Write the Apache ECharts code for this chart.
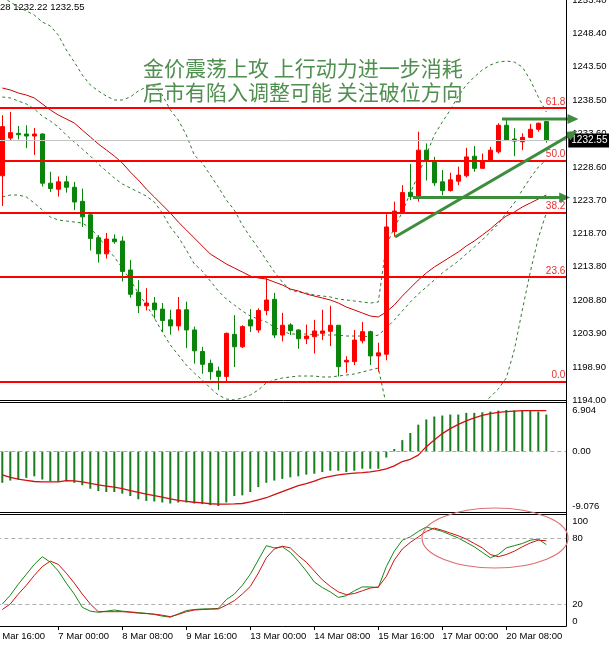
<!DOCTYPE html>
<html>
<head>
<meta charset="utf-8">
<script src="https://cdn.jsdelivr.net/npm/echarts@6/dist/echarts.min.js"></script>
<style>
html,body{margin:0;padding:0;background:#fff;}
#chart{width:609px;height:645px;}
</style>
</head>
<body>
<div id="chart"></div>
<script>
// ---------- categories (H4 bars, gold, March) ----------
const tradingDays = ['3 Mar','6 Mar','7 Mar','8 Mar','9 Mar','10 Mar','13 Mar','14 Mar','15 Mar','16 Mar','17 Mar','20 Mar','21 Mar'];
const barHours = ['00:00','04:00','08:00','12:00','16:00','20:00'];
const allBars = [];
tradingDays.forEach(d => barHours.forEach(h => allBars.push(d + ' ' + h)));
const categories = allBars.slice(4, 4 + 72); // first slot '3 Mar 16:00' (off-screen), 69 candles, 2 empty slots

// ---------- candles [open, close, low, high] ----------
const ohlc = [
[1227.3,1234.6,1222.8,1236.3],[1232.9,1233.7,1232.5,1236.8],[1233.6,1233.4,1232.7,1234.7],[1233.5,1233.2,1231.4,1234.8],
[1233.2,1233.5,1230.4,1234.4],[1233.5,1226.2,1225.7,1233.6],[1226.2,1225.4,1224.9,1227.9],[1225.3,1226.4,1224.2,1227.2],
[1226.4,1225.6,1224.8,1227.3],[1225.6,1223.4,1222.2,1226.4],[1223.5,1221.2,1219.7,1225.4],[1221.5,1218.0,1216.2,1221.7],
[1218.1,1215.7,1214.4,1218.5],[1215.7,1217.9,1215.0,1218.8],[1217.9,1217.5,1217.2,1218.6],[1217.6,1213.1,1211.6,1218.3],
[1213.3,1209.7,1209.2,1214.8],[1210.0,1208.0,1206.9,1211.8],[1208.0,1208.4,1207.3,1210.6],[1208.4,1207.4,1206.1,1209.3],
[1207.5,1205.8,1204.1,1208.4],[1205.9,1205.0,1203.7,1207.4],[1205.0,1207.4,1204.3,1209.3],[1207.4,1204.4,1201.7,1208.6],
[1204.4,1201.3,1199.4,1204.9],[1201.2,1199.3,1197.9,1201.9],[1199.45,1198.2,1197.0,1200.0],[1198.3,1197.5,1195.5,1198.95],
[1197.5,1203.9,1196.7,1204.0],[1203.75,1201.9,1198.9,1206.6],[1201.9,1204.9,1201.7,1205.1],[1205.9,1205.0,1204.1,1207.5],
[1204.4,1207.3,1204.0,1207.6],[1207.3,1208.85,1206.6,1212.3],[1208.95,1203.65,1203.2,1209.9],[1203.65,1205.1,1202.7,1206.95],
[1205.15,1204.3,1203.65,1205.4],[1204.4,1203.1,1201.6,1204.5],[1203.1,1203.5,1202.3,1205.2],[1203.4,1204.25,1200.9,1205.9],
[1203.9,1204.25,1202.9,1207.4],[1204.2,1205.1,1202.0,1208.0],[1205.1,1198.95,1197.5,1205.1],[1199.65,1199.9,1198.05,1200.5],
[1199.7,1202.9,1199.2,1204.4],[1202.8,1204.15,1202.4,1205.6],[1204.15,1200.55,1199.2,1204.3],[1200.55,1201.0,1198.2,1202.5],
[1200.8,1219.7,1199.9,1221.6],[1219.0,1222.05,1218.25,1223.45],[1221.8,1224.8,1221.7,1225.9],[1224.85,1224.2,1223.7,1229.05],
[1224.2,1231.1,1223.45,1233.85],[1231.1,1229.4,1226.6,1232.1],[1229.5,1226.25,1225.8,1230.1],[1226.4,1225.1,1224.4,1228.15],
[1225.1,1226.7,1224.95,1227.75],[1226.5,1227.4,1225.9,1228.65],[1227.3,1230.1,1227.05,1231.45],[1230.2,1228.4,1227.9,1231.7],
[1228.4,1229.4,1228.4,1230.6],[1229.5,1231.1,1229.4,1231.6],[1230.85,1234.8,1230.6,1235.1],[1234.8,1232.6,1232.5,1235.6],
[1232.75,1232.45,1230.2,1234.35],[1232.35,1233.0,1231.1,1233.6],[1233.0,1234.2,1232.9,1235.0],[1234.2,1235.1,1233.85,1235.2],
[1235.35,1232.55,1232.22,1235.4]
];

// ---------- Bollinger bands & moving average ----------
const bbUpper = [1253.85,1253.10,1252.36,1251.77,1251.17,1250.13,1249.54,1248.20,1245.98,1244.19,1242.26,1240.78,1239.89,1239.14,1238.55,1238.55,1239.00,1239.89,1240.48,1240.63,1239.29,1237.07,1235.58,1233.35,1230.38,1229.19,1227.41,1225.63,1223.70,1222.22,1219.99,1218.21,1216.57,1214.79,1213.01,1211.52,1210.33,1210.04,1209.89,1209.59,1209.44,1209.30,1209.00,1208.85,1208.70,1208.55,1208.40,1208.55,1217.02,1219.54,1221.92,1224.74,1227.41,1230.38,1233.35,1235.28,1237.07,1239.14,1240.78,1241.97,1243.01,1243.75,1244.19,1244.34,1244.19,1243.45,1241.52,1239.00,1236.77];
const bbMiddle = [1239.00,1238.85,1238.40,1237.96,1237.21,1236.17,1235.43,1234.54,1233.35,1232.31,1231.27,1230.23,1229.05,1228.01,1226.97,1226.08,1225.48,1224.89,1224.29,1223.40,1221.77,1219.69,1218.21,1216.28,1214.20,1213.16,1211.67,1210.19,1209.00,1208.11,1207.22,1206.47,1206.03,1205.58,1204.84,1204.25,1203.80,1203.80,1203.80,1203.65,1203.65,1203.65,1203.65,1203.50,1203.50,1203.50,1203.36,1203.65,1204.69,1205.88,1207.22,1208.55,1209.74,1210.78,1211.82,1212.86,1213.75,1214.64,1215.68,1216.72,1217.76,1218.95,1220.14,1221.77,1223.25,1225.18,1226.97,1228.60,1229.64];
const bbLower = [1224.15,1224.44,1224.44,1224.15,1223.25,1222.22,1221.18,1220.73,1220.58,1220.43,1220.28,1219.54,1218.21,1216.72,1215.24,1213.60,1211.82,1209.89,1208.11,1206.18,1204.10,1202.17,1200.68,1199.20,1198.01,1196.97,1195.78,1194.74,1194.15,1194.00,1194.30,1194.74,1195.49,1196.53,1196.97,1197.27,1197.42,1197.56,1197.56,1197.56,1197.42,1197.42,1197.56,1197.71,1197.86,1198.16,1198.46,1198.75,1193.26,1191.33,1190.29,1189.55,1189.55,1189.84,1190.29,1190.73,1191.03,1191.62,1192.22,1192.81,1193.41,1194.45,1195.63,1197.27,1201.43,1207.37,1213.01,1218.06,1221.77];
const maLine = [1240.33,1240.04,1239.59,1239.29,1238.85,1237.96,1237.07,1236.32,1235.73,1235.13,1234.09,1233.06,1232.02,1231.13,1230.23,1229.19,1227.86,1226.67,1225.33,1224.15,1222.96,1221.77,1220.43,1219.25,1218.06,1216.87,1215.68,1214.94,1214.20,1213.60,1213.01,1212.41,1212.12,1211.97,1211.52,1211.08,1210.48,1210.19,1209.74,1209.44,1209.15,1208.85,1208.40,1207.81,1207.37,1206.92,1206.47,1206.33,1207.07,1208.11,1209.44,1210.63,1211.82,1212.86,1213.75,1214.49,1215.24,1215.98,1216.87,1217.61,1218.50,1219.39,1220.43,1221.32,1221.92,1222.66,1223.25,1223.85,1224.44];

// ---------- MACD ----------
const macdHist = [-5.21,-4.84,-4.67,-4.39,-4.13,-4.67,-4.95,-5.05,-4.95,-5.21,-5.61,-6.2,-6.59,-6.75,-6.75,-7.02,-7.41,-7.95,-8.23,-8.33,-8.49,-8.66,-8.49,-8.49,-8.66,-8.77,-8.93,-9.076,-8.49,-7.41,-7.3,-6.75,-5.93,-5.21,-4.84,-4.56,-4.3,-4.13,-3.85,-3.69,-3.41,-3.2,-3.2,-3.41,-3.2,-2.87,-2.87,-2.87,-1.01,0.41,1.89,3.08,4.46,5.33,5.82,5.98,6.15,6.15,6.43,6.43,6.52,6.64,6.8,6.904,6.85,6.8,6.8,6.64,6.15];
const macdSignal = [-3.9,-4.3,-4.6,-4.8,-5.0,-5.05,-5.05,-5.05,-4.85,-4.9,-5.05,-5.3,-5.55,-5.75,-5.95,-6.2,-6.5,-6.8,-7.1,-7.35,-7.6,-7.9,-8.15,-8.3,-8.45,-8.55,-8.7,-8.77,-8.77,-8.72,-8.66,-8.4,-8.05,-7.7,-7.2,-6.7,-6.2,-5.7,-5.35,-4.95,-4.45,-4.15,-3.9,-3.72,-3.62,-3.52,-3.4,-3.2,-2.9,-2.4,-1.67,-1.3,-0.6,0.8,1.9,2.98,3.8,4.5,5.1,5.6,6.0,6.3,6.5,6.64,6.72,6.8,6.8,6.8,6.8];

// ---------- Stochastic ----------
const stochK = [20,28,38,47,56,63,58,50,39,29,17,13.5,12.5,13.5,14.5,13.5,12.8,12.2,11.5,10.5,9,8,11,14,15,15.5,15.6,16,24,29,37,47,60,73,71,72,67,59,50,40,35,31,26,27.5,32,35.5,35.5,35,54,68,78,81,86,90,88,86,83,80,76,72,67,62,65,71,73,75,78,79,74];
const stochD = [15,20,29,37,46,54,59,56,48,39,29,20,13,13,13,13,12.5,11.7,11.3,10.8,9.8,8.5,10.5,13,14.5,15,15.3,15.5,19,23,29,36,48,62,70,72.5,71,64,58,50,42,36,31,28.5,29.5,32,34.5,35.5,45,60,70,76,81,86,89,87,84.5,82,79,75,71,65,63,65,68,72,75.5,78,77.5];

// ---------- levels / ticks / texts ----------
const fibLevels = [1196.72,1212.24,1221.84,1229.60,1237.36];
const fibLabels = ['0.0','23.6','38.2','50.0','61.8'];
const currentPrice = 1232.55;
const priceTicks = [1194.00,1198.90,1203.90,1208.80,1213.80,1218.70,1223.70,1228.60,1233.60,1238.50,1243.50,1248.40,1253.40];
const macdTicks = [-9.076,0,6.904];
const stochTicks = [0,20,80,100];
const stochLevels = [20,80];
const headerText = '28 1232.22 1232.55';
const noteLines = ['金价震荡上攻 上行动力进一步消耗','后市有陷入调整可能 关注破位方向'];
// arrows: start / end on the slot scale (candle i sits on slot i+1), price; last item = head rotation
const arrows = [
  [[63.46,1235.73],[72.34,1235.73],-90],
  [[52.34,1224.07],[71.3,1224.07],-90],
  [[50.09,1218.21],[72.3,1233.58],-60]
];

// ---------- build ----------
const pad = arr => ['-'].concat(arr).concat(['-','-']);
const F = 'Liberation Sans';
const axisFont = {color:'#000', fontSize:9.5, fontFamily:F};
const chart = echarts.init(document.getElementById('chart'), null, {renderer:'canvas'});

const GREEN = '#0b840b', RED = '#ff0000', BAND = '#2f7a2f';
const gridL = -9.7, gridW = 576;

function arrowSeries(a){
  return {
    type:'line', xAxisIndex:1, yAxisIndex:0, clip:false, silent:true, z:10,
    showSymbol:true, symbol:'none',
    lineStyle:{color:'#3d8d3d', width:3},
    itemStyle:{color:'#3d8d3d'},
    data:[{value:a[0], symbol:'none'}, {value:a[1], symbol:'triangle', symbolSize:[10,11], symbolRotate:a[2]}]
  };
}

const gridBase = {left:gridL, width:gridW, containLabel:false, outerBoundsMode:'none'};
const option = {
  animation:false,
  grid:[
    Object.assign({top:0, height:400}, gridBase),
    Object.assign({top:410, height:96}, gridBase),
    Object.assign({top:516, height:110}, gridBase)
  ],
  xAxis:[
    {type:'category', gridIndex:0, data:categories, axisLine:{show:false}, axisTick:{show:false}, axisLabel:{show:false}, splitLine:{show:false}},
    {type:'value', gridIndex:0, min:-0.5, max:71.5, show:false},
    {type:'category', gridIndex:1, data:categories, show:false},
    {type:'category', gridIndex:2, data:categories,
      axisLine:{show:true, lineStyle:{color:'#000', width:1}},
      axisTick:{show:true, interval:7, alignWithLabel:true, length:4, lineStyle:{color:'#000'}},
      axisLabel:Object.assign({interval:7, align:'left', margin:5, hideOverlap:false}, axisFont),
      splitLine:{show:false}}
  ],
  yAxis:[
    {type:'value', gridIndex:0, position:'right', min:1194.0, max:1253.4,
      axisLine:{show:false}, axisTick:{show:false}, splitLine:{show:false},
      axisLabel:Object.assign({customValues:priceTicks, margin:6, formatter:v=>v.toFixed(2)}, axisFont)},
    {type:'value', gridIndex:1, position:'right', min:-9.076, max:6.904,
      axisLine:{show:false}, axisTick:{show:false}, splitLine:{show:false},
      axisLabel:Object.assign({customValues:macdTicks, margin:6, formatter:v=>v===0?'0.00':v.toFixed(3)}, axisFont)},
    {type:'value', gridIndex:2, position:'right', min:0, max:100,
      axisLine:{show:false}, axisTick:{show:false}, splitLine:{show:false},
      axisLabel:Object.assign({customValues:stochTicks, margin:6, verticalAlignMaxLabel:'top', verticalAlignMinLabel:'bottom'}, axisFont)}
  ],
  series:[
    {type:'line', xAxisIndex:0, yAxisIndex:0, data:pad(bbUpper), showSymbol:false, silent:true, lineStyle:{color:BAND, width:1, type:[3,3]}, z:3},
    {type:'line', xAxisIndex:0, yAxisIndex:0, data:pad(bbMiddle), showSymbol:false, silent:true, lineStyle:{color:BAND, width:1, type:[3,3]}, z:3},
    {type:'line', xAxisIndex:0, yAxisIndex:0, data:pad(bbLower), showSymbol:false, silent:true, lineStyle:{color:BAND, width:1, type:[3,3]}, z:3},
    {type:'line', xAxisIndex:0, yAxisIndex:0, data:pad(maLine), showSymbol:false, silent:true, lineStyle:{color:'#cc0000', width:1}, z:3},
    {type:'candlestick', xAxisIndex:0, yAxisIndex:0, data:pad(ohlc), barWidth:5, silent:true, z:4,
      itemStyle:{color:RED, color0:GREEN, borderColor:RED, borderColor0:GREEN, borderWidth:1},
      markLine:{silent:true, symbol:['none','none'], animation:false, z:5,
        data: fibLevels.map((v,i)=>({yAxis:v,
            lineStyle:{color:'#ff0000', width:2, type:'solid'},
            label:{show:true, position:'insideEndTop', formatter:fibLabels[i], color:'#e53030', fontSize:10, fontFamily:F, distance:[1,1]}}))
          .concat([{yAxis:currentPrice,
            lineStyle:{color:'#c4c4c4', width:1, type:'solid'},
            label:{show:true, position:'end', formatter:currentPrice.toFixed(2), color:'#fff', backgroundColor:'#000', fontSize:10, fontFamily:F, padding:[2,3,2,3], distance:2}}])
      }},
    ...arrows.map(arrowSeries),
    {type:'bar', xAxisIndex:2, yAxisIndex:1, data:pad(macdHist), barWidth:2, silent:true, itemStyle:{color:'#1b7d1b'},
      markLine:{silent:true, symbol:['none','none'], data:[{yAxis:0}], label:{show:false}, lineStyle:{color:'#a8a8a8', width:1, type:[4,3]}}},
    {type:'line', xAxisIndex:2, yAxisIndex:1, data:pad(macdSignal), showSymbol:false, silent:true, lineStyle:{color:'#d01010', width:1.3}},
    {type:'line', xAxisIndex:3, yAxisIndex:2, data:pad(stochK), showSymbol:false, silent:true, lineStyle:{color:'#138a13', width:1},
      markLine:{silent:true, symbol:['none','none'], data:stochLevels.map(v=>({yAxis:v})), label:{show:false}, lineStyle:{color:'#b0b0b0', width:1, type:[4,3]}}},
    {type:'line', xAxisIndex:3, yAxisIndex:2, data:pad(stochD), showSymbol:false, silent:true, lineStyle:{color:'#d01010', width:1}}
  ],
  graphic:[
    {type:'text', left:0, top:2, z:20, style:{text:headerText, font:'9.5px "Liberation Sans"', fill:'#000'}},
    {type:'text', left:143, top:58, z:20, style:{text:noteLines[0], font:'21px "Noto Sans CJK SC"', fill:'#4f8f4f'}},
    {type:'text', left:143, top:82, z:20, style:{text:noteLines[1], font:'21px "Noto Sans CJK SC"', fill:'#4f8f4f'}},
    {type:'line', z:20, shape:{x1:0,y1:400.5,x2:566.5,y2:400.5}, style:{stroke:'#000', lineWidth:1}},
    {type:'line', z:20, shape:{x1:0,y1:402.5,x2:566.5,y2:402.5}, style:{stroke:'#000', lineWidth:1}},
    {type:'line', z:20, shape:{x1:0,y1:512.5,x2:566.5,y2:512.5}, style:{stroke:'#000', lineWidth:1}},
    {type:'line', z:20, shape:{x1:0,y1:514.5,x2:566.5,y2:514.5}, style:{stroke:'#000', lineWidth:1}},
    {type:'line', z:20, shape:{x1:566.5,y1:0,x2:566.5,y2:626}, style:{stroke:'#000', lineWidth:1}},
    {type:'ellipse', z:20, shape:{cx:495, cy:538, rx:73, ry:30}, style:{fill:'none', stroke:'#e07070', lineWidth:1.2}}
  ]
};
chart.setOption(option);
</script>
</body>
</html>
